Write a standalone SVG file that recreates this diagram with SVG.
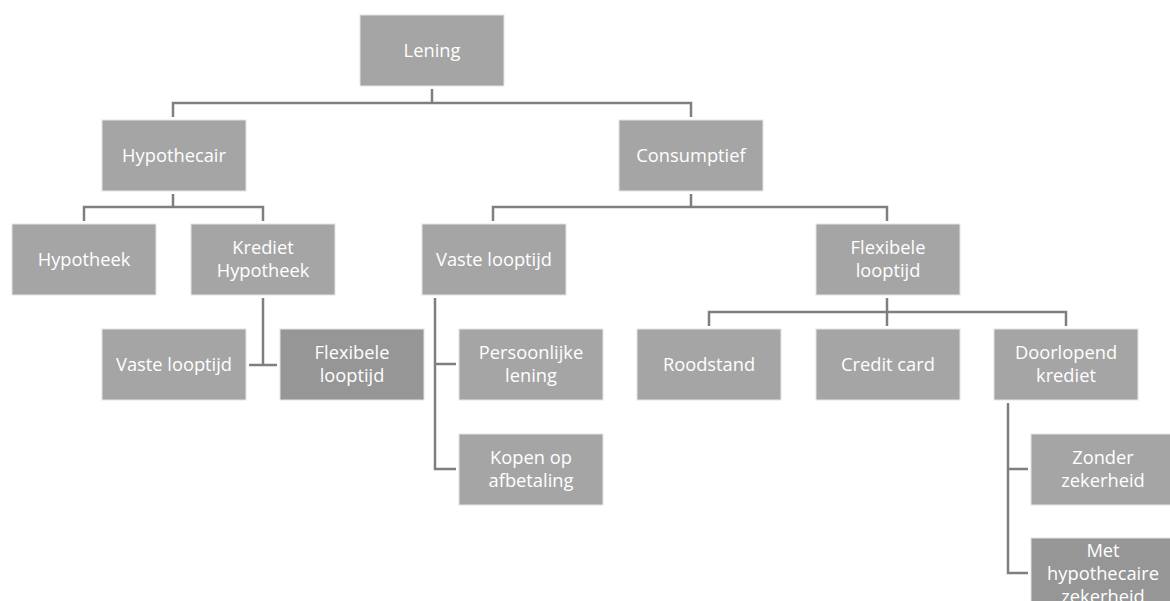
<svg xmlns="http://www.w3.org/2000/svg" width="1170" height="601" viewBox="0 0 1170 601">
<style>
.box{fill:#a5a5a5;stroke:#e4e4e4;stroke-width:1}
.dark{fill:#969696}
.t{font-family:"Open Sans","Noto Sans",sans-serif;font-size:18.3px;fill:#ffffff;text-anchor:middle}
.c{fill:none;stroke:#7f7f7f;stroke-width:2.5}
</style>
<rect width="1170" height="601" fill="#ffffff"/>
<g id="connectors">
<path class="c" d="M432,89 V103 M173,117 V103 H691 V117"/>
<path class="c" d="M173,194 V207 M84,221 V207 H263 V221"/>
<path class="c" d="M263,298 V365 M249,365 H277"/>
<path class="c" d="M691,194 V207 M493,221 V207 H887 V221"/>
<path class="c" d="M435,298 V469 H456 M435,364 H456"/>
<path class="c" d="M887,298 V326 M709,326 V312 H1066 V326"/>
<path class="c" d="M1008,403 V573 H1028 M1008,469 H1028"/>
</g>
<g id="lening"><rect class="box" x="360" y="15" width="144" height="71"/><text class="t" x="432" y="57">Lening</text></g>
<g id="hypothecair"><rect class="box" x="102" y="120" width="144" height="71"/><text class="t" x="174" y="162">Hypothecair</text></g>
<g id="consumptief"><rect class="box" x="619" y="120" width="144" height="71"/><text class="t" x="691" y="162">Consumptief</text></g>
<g id="hypotheek"><rect class="box" x="12" y="224" width="144" height="71"/><text class="t" x="84" y="266">Hypotheek</text></g>
<g id="krediet-hypotheek"><rect class="box" x="191" y="224" width="144" height="71"/><text class="t" x="263" y="254">Krediet</text><text class="t" x="263" y="277">Hypotheek</text></g>
<g id="vaste-looptijd-cons"><rect class="box" x="422" y="224" width="144" height="71"/><text class="t" x="494" y="266">Vaste looptijd</text></g>
<g id="flexibele-looptijd-cons"><rect class="box" x="816" y="224" width="144" height="71"/><text class="t" x="888" y="254">Flexibele</text><text class="t" x="888" y="277">looptijd</text></g>
<g id="vaste-looptijd-hyp"><rect class="box" x="102" y="329" width="144" height="71"/><text class="t" x="174" y="371">Vaste looptijd</text></g>
<g id="flexibele-looptijd-hyp"><rect class="box dark" x="280" y="329" width="144" height="71"/><text class="t" x="352" y="359">Flexibele</text><text class="t" x="352" y="382">looptijd</text></g>
<g id="persoonlijke-lening"><rect class="box" x="459" y="329" width="144" height="71"/><text class="t" x="531" y="359">Persoonlijke</text><text class="t" x="531" y="382">lening</text></g>
<g id="roodstand"><rect class="box" x="637" y="329" width="144" height="71"/><text class="t" x="709" y="371">Roodstand</text></g>
<g id="credit-card"><rect class="box" x="816" y="329" width="144" height="71"/><text class="t" x="888" y="371">Credit card</text></g>
<g id="doorlopend-krediet"><rect class="box" x="994" y="329" width="144" height="71"/><text class="t" x="1066" y="359">Doorlopend</text><text class="t" x="1066" y="382">krediet</text></g>
<g id="kopen-op-afbetaling"><rect class="box" x="459" y="434" width="144" height="71"/><text class="t" x="531" y="464">Kopen op</text><text class="t" x="531" y="487">afbetaling</text></g>
<g id="zonder-zekerheid"><rect class="box" x="1031" y="434" width="144" height="71"/><text class="t" x="1103" y="464">Zonder</text><text class="t" x="1103" y="487">zekerheid</text></g>
<g id="met-hypothecaire-zekerheid"><rect class="box dark" x="1031" y="538" width="144" height="71"/><text class="t" x="1103" y="557">Met</text><text class="t" x="1103" y="580">hypothecaire</text><text class="t" x="1103" y="603">zekerheid</text></g>
</svg>
